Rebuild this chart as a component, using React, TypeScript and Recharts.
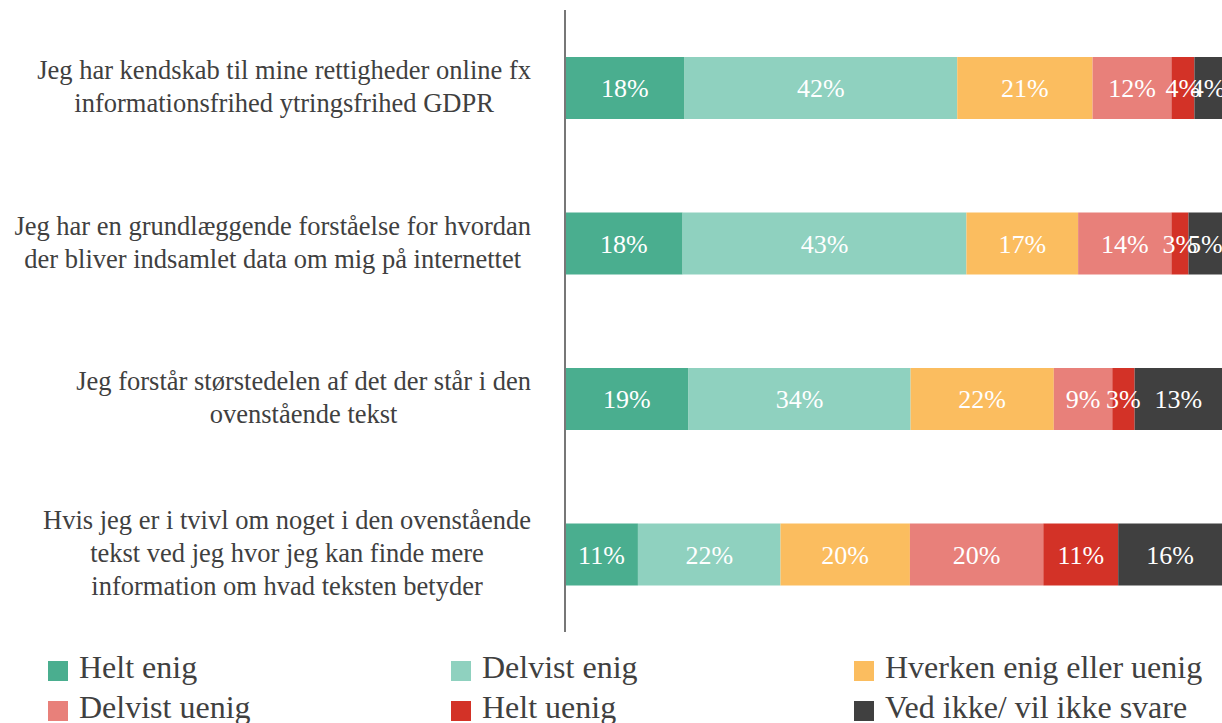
import React from 'react';
import { BarChart, Bar, XAxis, YAxis, Legend, LabelList } from 'recharts';

const categories = [
  'Jeg har kendskab til mine rettigheder online fx\ninformationsfrihed ytringsfrihed GDPR',
  'Jeg har en grundlæggende forståelse for hvordan\nder bliver indsamlet data om mig på internettet',
  'Jeg forstår størstedelen af det der står i den\novenstående tekst',
  'Hvis jeg er i tvivl om noget i den ovenstående\ntekst ved jeg hvor jeg kan finde mere\ninformation om hvad teksten betyder',
];

const heltEnig = [18.2, 17.9, 18.8, 11.1];
const delvistEnig = [41.5, 43.2, 33.8, 21.7];
const hverken = [20.6, 17.0, 21.8, 19.7];
const delvistUenig = [12.0, 14.2, 8.9, 20.3];
const heltUenig = [3.5, 2.6, 3.4, 11.4];
const vedIkke = [4.2, 5.1, 13.3, 15.8];

const series = [
  { key: 'heltEnig', name: 'Helt enig', color: '#4aae8f', values: heltEnig },
  { key: 'delvistEnig', name: 'Delvist enig', color: '#8fd1bf', values: delvistEnig },
  { key: 'hverken', name: 'Hverken enig eller uenig', color: '#fbbd5f', values: hverken },
  { key: 'delvistUenig', name: 'Delvist uenig', color: '#e8807a', values: delvistUenig },
  { key: 'heltUenig', name: 'Helt uenig', color: '#d33227', values: heltUenig },
  { key: 'vedIkke', name: 'Ved ikke/ vil ikke svare', color: '#404040', values: vedIkke },
];

const data = categories.map((name, i) => {
  const row: Record<string, any> = { name };
  series.forEach((s) => {
    row[s.key] = s.values[i];
  });
  return row;
});

const FONT = '"Liberation Serif", "DejaVu Serif", serif';
const TICK_SIZE = 26.5;
const LINE_H = 33;

let ctx: CanvasRenderingContext2D | null = null;
const measure = (t: string) => {
  if (!ctx) ctx = document.createElement('canvas').getContext('2d');
  if (!ctx) return t.length * 11;
  ctx.font = `${TICK_SIZE}px ${FONT}`;
  return ctx.measureText(t).width;
};

const CategoryTick = (props: any) => {
  const { y, payload } = props;
  const lines: string[] = String(payload.value).split('\n');
  const maxW = Math.max(...lines.map(measure));
  const cx = 523 - maxW / 2;
  return (
    <g>
      {lines.map((line, i) => (
        <text
          key={i}
          x={cx}
          y={y - 1 + (i - (lines.length - 1) / 2) * LINE_H}
          textAnchor="middle"
          dominantBaseline="central"
          fontSize={TICK_SIZE}
          fill="#404040"
          fontFamily={FONT}
        >
          {line}
        </text>
      ))}
    </g>
  );
};

// legend drawn in series order, two rows of three
const LegendContent = () => {
  const rows = [series.slice(0, 3), series.slice(3, 6)];
  return (
    <div style={{ height: 91, overflow: 'hidden', paddingTop: 29, boxSizing: 'border-box', fontFamily: FONT }}>
      {rows.map((row, r) => (
        <div key={r} style={{ display: 'flex', height: 40, paddingLeft: 40 }}>
          {row.map((item) => (
            <div key={item.key} style={{ width: 403, flexShrink: 0, display: 'flex', alignItems: 'flex-start' }}>
              <div style={{ width: 20, height: 20, background: item.color, flexShrink: 0 }} />
              <span
                style={{
                  marginLeft: 11,
                  fontSize: 32,
                  lineHeight: '20px',
                  color: '#404040',
                  position: 'relative',
                  top: -4,
                  whiteSpace: 'nowrap',
                }}
              >
                {item.name}
              </span>
            </div>
          ))}
        </div>
      ))}
    </div>
  );
};

export default function App() {
  return (
    <div
      style={{
        width: 1222,
        height: 723,
        padding: '8px 0 0 8px',
        boxSizing: 'border-box',
        overflow: 'hidden',
        fontFamily: FONT,
      }}
    >
      <style>{'html { overflow: hidden; } body { margin: 0; }'}</style>
      <BarChart
        width={1214}
        height={715}
        data={data}
        layout="vertical"
        margin={{ top: 2, right: 0, bottom: 0, left: 0 }}
      >
        <XAxis type="number" domain={[0, 100]} hide />
        <YAxis
          type="category"
          dataKey="name"
          width={557}
          axisLine={{ stroke: '#777777', strokeWidth: 2 }}
          tickLine={false}
          tick={<CategoryTick />}
        />
        <Legend verticalAlign="bottom" content={<LegendContent />} />
        {series.map((s) => (
          <Bar
            key={s.key}
            dataKey={s.key}
            name={s.name}
            stackId="a"
            fill={s.color}
            barSize={62}
            isAnimationActive={false}
          >
            <LabelList
              dataKey={s.key}
              position="center"
              fill="#ffffff"
              fontSize={26}
              fontFamily={FONT}
              formatter={(v: any) => `${Math.round(Number(v))}%`}
            />
          </Bar>
        ))}
      </BarChart>
    </div>
  );
}
